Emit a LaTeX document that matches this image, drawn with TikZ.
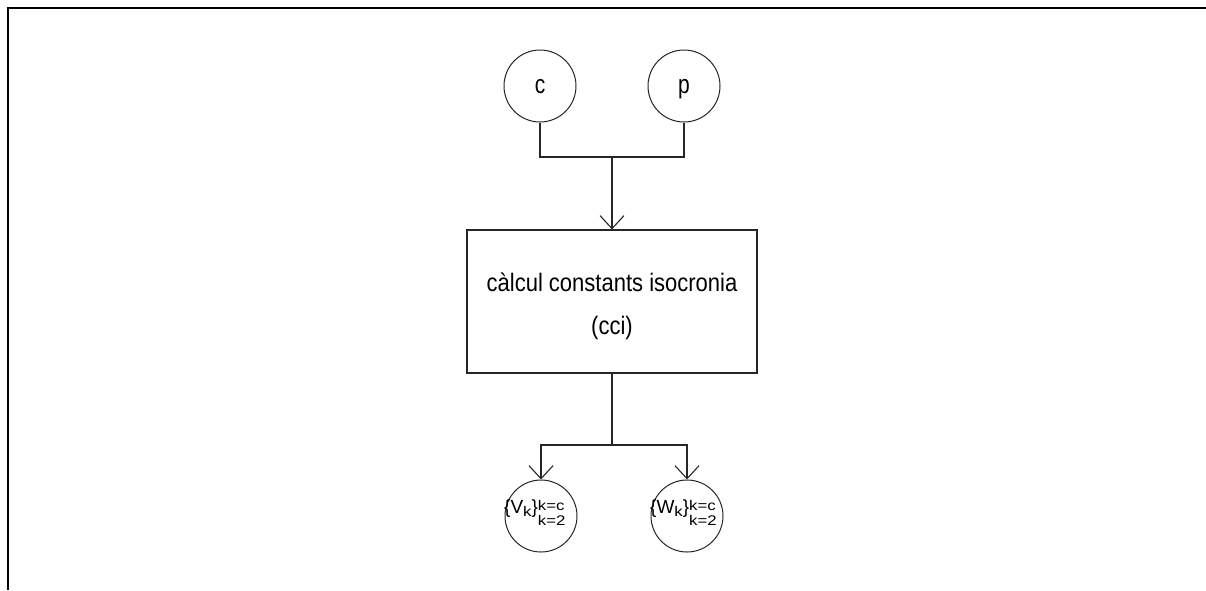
\documentclass[tikz,border=0pt]{standalone}
\usepackage{fontspec}
\setmainfont{Liberation Sans}
\usetikzlibrary{arrows.meta}

% set {X_k}^{k=c}_{k=2}
\newcommand{\smallidx}[1]{\scalebox{1.2}[1]{\fontsize{14}{14}\selectfont #1}}
\newcommand{\kset}[1]{%
  \fontsize{19}{19}\selectfont
  \{#1\raisebox{-3pt}{\smallidx{k}}\}%
  \raisebox{3pt}{\rlap{\smallidx{k=c}}}%
  \raisebox{-12pt}{\smallidx{k=2}}}

\begin{document}
\begin{tikzpicture}[x=1pt,y=-1pt,
  wire/.style={line width=1.2pt, black!85},
  tipped/.style={-{Straight Barb[length=13pt,width=24pt,line width=1.1pt]}},
  var/.style={circle, draw=black!85, line width=1pt, minimum size=72pt,
    inner sep=0pt, text depth=0pt,
    font=\fontsize{21}{21}\selectfont},
  procbox/.style={rectangle, draw=black!85, line width=1.2pt,
    minimum width=290pt, minimum height=143pt, inner sep=0pt},
  boxtext/.style={align=center, inner sep=0pt,
    font=\fontsize{22}{43}\selectfont},
  settext/.style={inner sep=0pt, anchor=base west}]
\useasboundingbox (0,0) rectangle (1206,590);

% frame edges
\draw[line width=2pt, black] (1206,8) -- (7.5,8) -- (7.5,590);

% inputs
\node[var] (c) at (540,86) {\scalebox{1}[1.25]{c}};
\node[var] (p) at (684,86) {\scalebox{1}[1.25]{p}};

% process
\node[procbox] (cci) at (612,301.5) {};
\node[boxtext] (ccilabel) at (612,306.5)
  {\scalebox{1}[1.15]{càlcul constants isocronia}\\\scalebox{1}[1.15]{(cci)}};

% outputs
\node[var] (v) at (541,516) {};
\node[var] (w) at (687,516) {};
\node[settext] (vlabel) at (504,513) {\kset{V}};
\node[settext] (wlabel) at (650,513) {\kset{W}};

% junctions
\coordinate (jin) at (612,157);
\coordinate (jout) at (612,445);

% connectors
\draw[wire] (c.south) |- (jin);
\draw[wire] (p.south) |- (jin);
\draw[wire, tipped] (jin) -- (cci.north);
\draw[wire] (cci.south) -- (jout);
\draw[wire, tipped] (jout) -| (v.north);
\draw[wire, tipped] (jout) -| (w.north);
\end{tikzpicture}
\end{document}
